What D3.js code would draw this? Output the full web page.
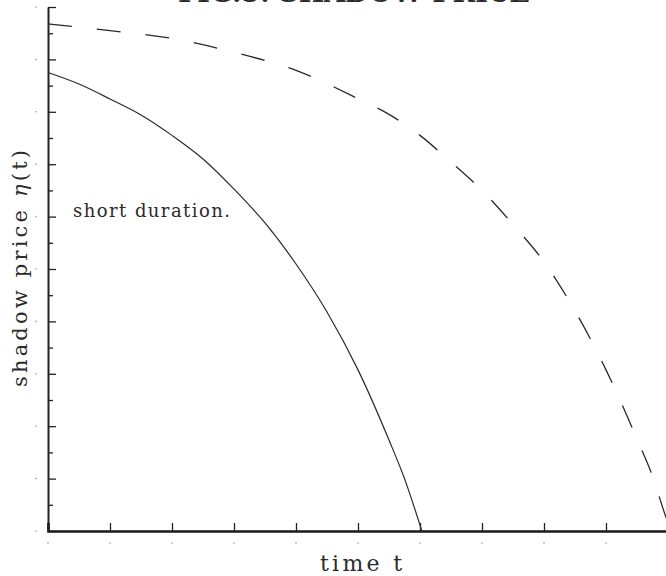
<!DOCTYPE html>
<html>
<head>
<meta charset="utf-8">
<script src="https://cdn.jsdelivr.net/npm/d3@7"></script>
<style>
  body { margin: 0; background: #fff; }
  svg text { font-family: "DejaVu Serif", serif; fill: #2b2b2b; }
</style>
</head>
<body>
<div id="chart"></div>
<script>
// short duration curve (solid)
const shortTime  = [0, 0.5, 1, 1.5, 2, 2.5, 3, 3.5, 4, 4.5, 5, 5.5, 5.75, 6.03]
const shortPrice = [17.5, 17.06, 16.49, 15.88, 15.1, 14.2, 13.05, 11.76, 10.19, 8.36, 6.15, 3.47, 2.0, 0]

// long duration curve (dashed)
const longTime  = [0, 1, 2, 3, 4, 5, 5.5, 6, 6.5, 7, 7.5, 8, 8.5, 9, 9.5, 9.75, 10, 10.08]
const longPrice = [19.35, 19.1, 18.8, 18.27, 17.58, 16.5, 15.9, 15.1, 14.08, 13.0, 11.7, 10.27, 8.4, 6.15, 3.51, 2.1, 0.35, 0]

const xTicks = d3.range(0, 11)
const yTicks = d3.range(0, 21)

const titleLabel = "FIG.5. SHADOW PRICE"
const xLabel = "time t"
const noteLabel = "short duration."

var width = 666
var height = 576

var x = d3.scaleLinear().domain([0, 10]).range([48, 668])
var y = d3.scaleLinear().domain([0, 20]).range([531, 7])

var svg = d3.select("#chart")
            .append("svg")
            .attr("width", width)
            .attr("height", height)

// title, mostly cut off by the top edge (as in the scan)
svg.append("text")
    .attr("x", 178)
    .attr("y", 2)
    .attr("textLength", 352)
    .attr("lengthAdjust", "spacingAndGlyphs")
    .style("font-size", "30px")
    .style("font-weight", "bold")
    .text(titleLabel)

// y axis, ticks pointing inwards
var yAxis = svg.append("g")
    .attr("transform", "translate(" + x(0) + ",0)")
    .call(d3.axisRight(y).tickValues(yTicks).tickSizeOuter(0).tickFormat(""))

yAxis.select(".domain").attr("stroke", "#222").attr("stroke-width", 2)
yAxis.selectAll(".tick line")
    .attr("stroke", "#222")
    .attr("stroke-width", 1.3)
    .attr("x2", d => d % 2 == 0 ? 8 : 5)

// little specks where tick labels would be
svg.append("g")
    .selectAll("circle")
    .data(yTicks.filter(d => d % 2 == 0))
    .enter()
    .append("circle")
    .attr("cx", 36)
    .attr("cy", d => y(d))
    .attr("r", 0.8)
    .attr("fill", "#999")

// x axis, ticks pointing up
var xAxis = svg.append("g")
    .attr("transform", "translate(0," + y(0) + ")")
    .call(d3.axisTop(x).tickValues(xTicks).tickSizeOuter(0).tickSize(8).tickFormat(""))

xAxis.select(".domain").attr("stroke", "#1a1a1a").attr("stroke-width", 2.6)
xAxis.selectAll(".tick line").attr("stroke", "#222").attr("stroke-width", 1.3)

svg.append("g")
    .selectAll("circle")
    .data(xTicks)
    .enter()
    .append("circle")
    .attr("cx", d => x(d))
    .attr("cy", 543)
    .attr("r", 0.8)
    .attr("fill", "#999")

var line = d3.line()
    .x(d => x(d[0]))
    .y(d => y(d[1]))
    .curve(d3.curveMonotoneX)

svg.append("path")
    .datum(d3.zip(shortTime, shortPrice))
    .attr("d", line)
    .attr("fill", "none")
    .attr("stroke", "#2a2a2a")
    .attr("stroke-width", 1.2)

svg.append("path")
    .datum(d3.zip(longTime, longPrice))
    .attr("d", line)
    .attr("fill", "none")
    .attr("stroke", "#2a2a2a")
    .attr("stroke-width", 1.3)
    .attr("stroke-dasharray", "24,25")

// labels
svg.append("text")
    .attr("x", 320)
    .attr("y", 571)
    .attr("textLength", 82)
    .style("font-size", "22px")
    .text(xLabel)

var yText = svg.append("text")
    .attr("transform", "translate(27,387) rotate(-90)")
    .attr("textLength", 237)
    .style("font-size", "21px")
yText.append("tspan").text("shadow price ")
yText.append("tspan").style("font-style", "italic").text("η")
yText.append("tspan").text("(t)")

svg.append("text")
    .attr("x", 73)
    .attr("y", 217)
    .attr("textLength", 157)
    .style("font-size", "18px")
    .text(noteLabel)
</script>
</body>
</html>
